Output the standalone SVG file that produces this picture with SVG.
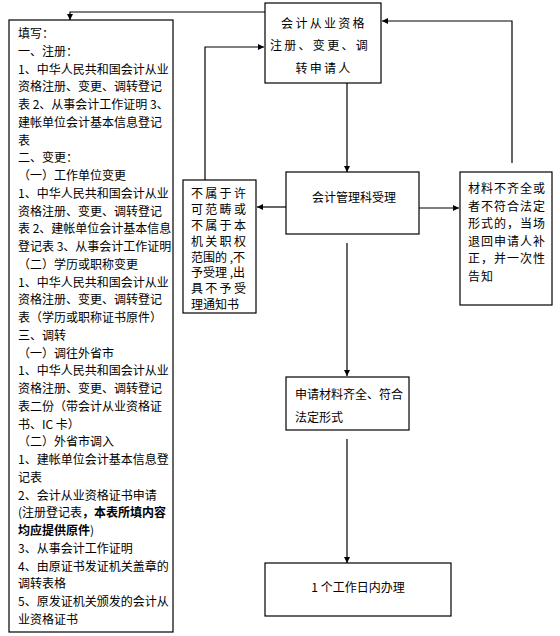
<svg xmlns="http://www.w3.org/2000/svg" width="560" height="636" viewBox="0 0 560 636">
<style>
.box{fill:#fff;stroke:#000;stroke-width:1.2}
.ln{fill:none;stroke:#000;stroke-width:1.2}
text{font-family:"Noto Sans CJK SC","Liberation Sans",sans-serif;font-size:12px;fill:#000}
.sp{letter-spacing:2.3px}
.b{font-weight:bold}
</style>
<defs>
<marker id="ar" viewBox="0 0 10 10" refX="10" refY="5" markerWidth="6" markerHeight="6" orient="auto" markerUnits="userSpaceOnUse">
<path d="M0,0 L10,5 L0,10 z" fill="#000"/>
</marker>
</defs>
<rect width="560" height="636" fill="#fff"/>
<g id="connectors">
<polyline class="ln" points="265,12 70,12 70,20" marker-end="url(#ar)"/>
<polyline class="ln" points="205,180 205,47 264,47" marker-end="url(#ar)"/>
<polyline class="ln" points="512,163 512,21 382,21" marker-end="url(#ar)"/>
<line class="ln" x1="347" y1="83" x2="347" y2="172" marker-end="url(#ar)"/>
<line class="ln" x1="286" y1="207" x2="257" y2="207" marker-end="url(#ar)"/>
<line class="ln" x1="419" y1="208" x2="459" y2="208" marker-end="url(#ar)"/>
<line class="ln" x1="347" y1="243" x2="347" y2="376" marker-end="url(#ar)"/>
<line class="ln" x1="347" y1="439" x2="347" y2="563" marker-end="url(#ar)"/>
</g>
<g id="left-list">
<rect class="box" x="9" y="20" width="164" height="612"/>
<text x="18" y="38">填写：</text>
<text x="18" y="55.75">一、注册：</text>
<text x="18" y="73.5">1、中华人民共和国会计从业</text>
<text x="18" y="91.25">资格注册、变更、调转登记</text>
<text x="18" y="109">表 2、从事会计工作证明 3、</text>
<text x="18" y="126.75">建帐单位会计基本信息登记</text>
<text x="18" y="144.5">表</text>
<text x="18" y="162.25">二、变更：</text>
<text x="18" y="180">（一）工作单位变更</text>
<text x="18" y="197.75">1、中华人民共和国会计从业</text>
<text x="18" y="215.5">资格注册、变更、调转登记</text>
<text x="18" y="233.25">表 2、建帐单位会计基本信息</text>
<text x="18" y="251">登记表 3、从事会计工作证明</text>
<text x="18" y="268.75">（二）学历或职称变更</text>
<text x="18" y="286.5">1、中华人民共和国会计从业</text>
<text x="18" y="304.25">资格注册、变更、调转登记</text>
<text x="18" y="322">表（学历或职称证书原件）</text>
<text x="18" y="339.75">三、调转</text>
<text x="18" y="357.5">（一）调往外省市</text>
<text x="18" y="375.25">1、中华人民共和国会计从业</text>
<text x="18" y="393">资格注册、变更、调转登记</text>
<text x="18" y="410.75">表二份（带会计从业资格证</text>
<text x="18" y="428.5">书、IC 卡）</text>
<text x="18" y="446.25">（二）外省市调入</text>
<text x="18" y="464">1、建帐单位会计基本信息登</text>
<text x="18" y="481.75">记表</text>
<text x="18" y="499.5">2、会计从业资格证书申请</text>
<text x="18" y="517.25">(注册登记表<tspan class="b">，本表所填内容</tspan></text>
<text x="18" y="535"><tspan class="b">均应提供原件</tspan>)</text>
<text x="18" y="552.75">3、从事会计工作证明</text>
<text x="18" y="570.5">4、由原证书发证机关盖章的</text>
<text x="18" y="588.25">调转表格</text>
<text x="18" y="606">5、原发证机关颁发的会计从</text>
<text x="18" y="623.75">业资格证书</text>
</g>
<g id="applicant">
<rect class="box" x="265" y="3" width="116" height="80"/>
<text class="sp" x="324" y="28" text-anchor="middle">会计从业资格</text>
<text class="sp" x="320" y="50" text-anchor="middle">注册、变更、调</text>
<text class="sp" x="324" y="73" text-anchor="middle">转申请人</text>
</g>
<g id="accept">
<rect class="box" x="286" y="172" width="133" height="62"/>
<text x="354" y="202" text-anchor="middle">会计管理科受理</text>
</g>
<g id="reject">
<rect class="box" x="183" y="180" width="73" height="133"/>
<text class="sp" x="191" y="198">不属于许</text>
<text class="sp" x="191" y="214">可范畴或</text>
<text class="sp" x="191" y="229.5">不属于本</text>
<text class="sp" x="191" y="245.5">机关职权</text>
<text x="191" y="261.5">范围的 ,不</text>
<text x="191" y="277">予受理 ,出</text>
<text class="sp" x="191" y="293">具不予受</text>
<text x="191" y="308.5">理通知书</text>
</g>
<g id="incomplete">
<rect class="box" x="460" y="172" width="92" height="133"/>
<text x="468" y="193" style="letter-spacing:1px">材料不齐全或</text>
<text x="468" y="210.5" style="letter-spacing:1px">者不符合法定</text>
<text x="468" y="228" style="letter-spacing:1px">形式的，当场</text>
<text x="468" y="245.5" style="letter-spacing:1px">退回申请人补</text>
<text x="468" y="263" style="letter-spacing:1px">正，并一次性</text>
<text x="468" y="280.5" style="letter-spacing:1px">告知</text>
</g>
<g id="complete">
<rect class="box" x="286" y="377" width="123" height="53"/>
<text x="295" y="399">申请材料齐全、符合</text>
<text x="295" y="422">法定形式</text>
</g>
<g id="handle">
<rect class="box" x="265" y="563" width="186" height="53"/>
<text x="358" y="592" text-anchor="middle">1 个工作日内办理</text>
</g>
</svg>
